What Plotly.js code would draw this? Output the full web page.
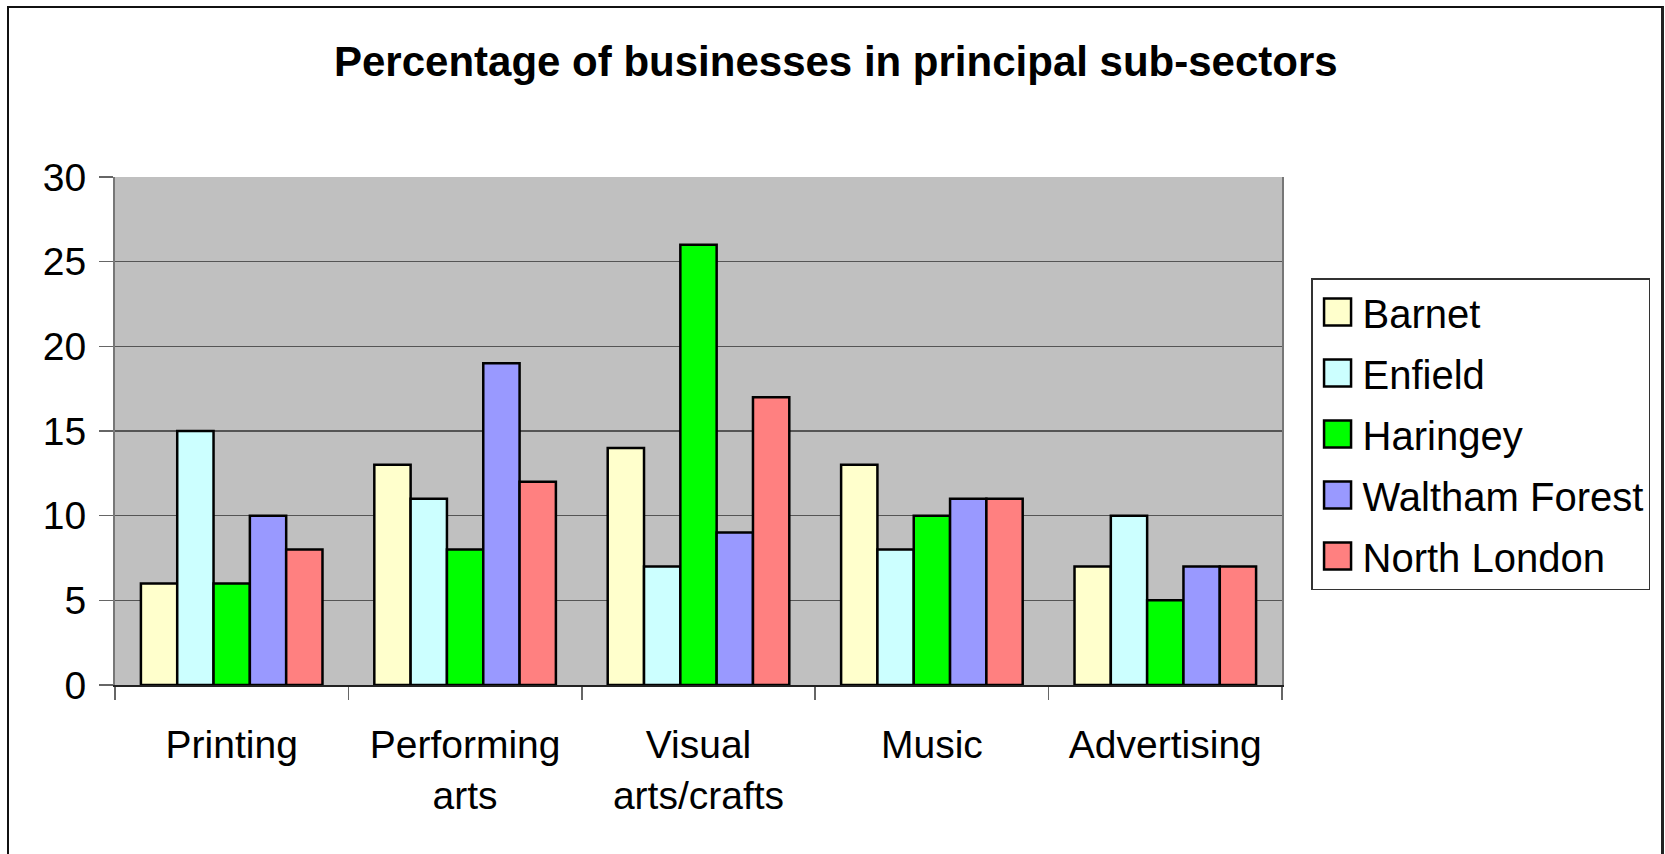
<!DOCTYPE html>
<html>
<head>
<meta charset="utf-8">
<script src="https://cdn.plot.ly/plotly-3.0.1.min.js"></script>
<style>
  html, body { margin: 0; padding: 0; background: #fff; overflow: hidden; }
  #wrap { position: relative; width: 1665px; height: 854px; }
  #chart { position: absolute; left: 0; top: 0; width: 1665px; height: 854px; }
  #frame { position: absolute; left: 7px; top: 6px; width: 1652px; height: 900px;
           border-left: 2px solid #111; border-top: 2px solid #111; border-right: 3px solid #222;
           pointer-events: none; }
</style>
</head>
<body>
<div id="wrap">
  <div id="chart"></div>
  <div id="frame"></div>
</div>
<script>
const categories = ["Printing", "Performing<br>arts", "Visual<br>arts/crafts", "Music", "Advertising"];
const seriesNames = ["Barnet", "Enfield", "Haringey", "Waltham Forest", "North London"];
const barnet        = [6, 13, 14, 13, 7];
const enfield       = [15, 11, 7, 8, 10];
const haringey      = [6, 8, 26, 10, 5];
const walthamForest = [10, 19, 9, 11, 7];
const northLondon   = [8, 12, 17, 11, 7];
const seriesValues = [barnet, enfield, haringey, walthamForest, northLondon];
const seriesColors = ["#FFFFCC", "#CCFFFF", "#00FF00", "#9999FF", "#FF8080"];
const yTicks = [0, 5, 10, 15, 20, 25, 30];

const FONT = '"Liberation Sans", Arial, Helvetica, sans-serif';

const traces = seriesNames.map((name, i) => ({
  type: 'bar',
  name: name,
  x: categories,
  y: seriesValues[i],
  legendgroup: 'g' + i,
  marker: { color: seriesColors[i], line: { color: '#000', width: 2.5 } },
  hoverinfo: 'x+y+name'
}));

const layout = {
  width: 1665,
  height: 854,
  paper_bgcolor: 'rgba(0,0,0,0)',
  plot_bgcolor: '#C0C0C0',
  margin: { l: 115, r: 383, t: 177, b: 169, pad: 0 },
  font: { family: FONT, size: 39, color: '#000' },
  title: {
    text: '<b>Percentage of businesses in principal sub-sectors</b>',
    font: { family: FONT, size: 42, color: '#000' },
    x: 0.502, xref: 'container', xanchor: 'center',
    y: 0.9286, yref: 'container', yanchor: 'middle'
  },
  barmode: 'group',
  bargap: 0.222,
  bargroupgap: 0,
  xaxis: {
    type: 'category',
    tickson: 'boundaries',
    ticks: 'outside',
    ticklen: 13,
    tickwidth: 1.5,
    tickcolor: '#666',
    showline: true,
    linecolor: '#222',
    linewidth: 2,
    showgrid: false,
    zeroline: false,
    tickfont: { family: FONT, size: 39, color: '#000' },
    ticklabelstandoff: 24,
    fixedrange: true
  },
  yaxis: {
    range: [0, 30],
    tickvals: yTicks,
    ticktext: yTicks.map(String),
    ticks: 'outside',
    ticklen: 14,
    tickwidth: 1.5,
    tickcolor: '#666',
    showline: true,
    mirror: true,
    linecolor: '#777',
    linewidth: 2,
    showgrid: true,
    gridcolor: '#555',
    gridwidth: 1.5,
    zeroline: false,
    tickfont: { family: FONT, size: 39, color: '#000' },
    ticklabelstandoff: 5,
    fixedrange: true
  },
  showlegend: true,
  legend: {
    x: 1.0249, xanchor: 'left', xref: 'paper',
    y: 0.801, yanchor: 'top', yref: 'paper',
    bgcolor: '#fff',
    bordercolor: '#333',
    borderwidth: 1.5,
    traceorder: 'grouped',
    tracegroupgap: 6,
    font: { family: FONT, size: 40, color: '#000' },
    itemwidth: 40
  }
};

Plotly.newPlot('chart', traces, layout, { displayModeBar: false, staticPlot: true }).then(function (gd) {
  // enlarge legend swatches to match the reference's big square keys
  gd.querySelectorAll('.legend .legendpoints path').forEach(function (p) {
    p.setAttribute('d', 'M13.5,13.5H-13.5V-13.5H13.5Z');
  });
});
</script>
</body>
</html>
